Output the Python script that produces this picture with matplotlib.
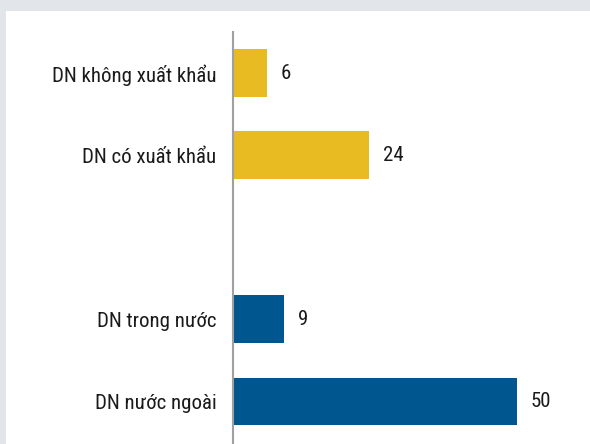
import matplotlib.pyplot as plt
from matplotlib import font_manager

nhom = ["DN không xuất khẩu", "DN có xuất khẩu", "DN trong nước", "DN nước ngoài"]
gia_tri = [6, 24, 9, 50]
vi_tri = [0, 1, 3, 4]
mau = ["#E8BB22", "#E8BB22", "#00578F", "#00578F"]

names = {f.name for f in font_manager.fontManager.ttflist}
chon = [n for n in ["Roboto Condensed", "Archivo Narrow", "Barlow Semi Condensed", "Roboto"] if n in names]
plt.rcParams["font.family"] = chon[:1] + ["DejaVu Sans"]

fig = plt.figure(figsize=(5.9, 4.44), dpi=100, facecolor="#E2E6EA")
# nen trang
fig.patches.append(plt.Rectangle((6 / 590, 0), 1, 1 - 11 / 444, transform=fig.transFigure,
                                 facecolor="white", edgecolor="none", zorder=-5))

ax = fig.add_axes([233 / 590, 0, 357 / 590, (444 - 32) / 444])
ax.set_facecolor("none")
ax.barh(vi_tri, gia_tri, height=0.58, color=mau)

for p, v in zip(vi_tri, gia_tri):
    ax.annotate(str(v), (v, p), xytext=(10, 0), textcoords="offset points",
                va="center", ha="left", fontsize=15, color="#1a1a1a")

ax.set_xlim(0, 357 / 5.68)
ax.set_ylim(4.52, -0.5)
ax.set_yticks(vi_tri)
ax.set_yticklabels(nhom, fontsize=15, color="#1a1a1a")
ax.tick_params(axis="y", length=0, pad=12)
ax.set_xticks([])
for s in ["top", "right", "bottom"]:
    ax.spines[s].set_visible(False)
ax.spines["left"].set_color("#A0A0A0")
ax.spines["left"].set_linewidth(1.5)

fig.savefig("out.png", dpi=100, facecolor=fig.get_facecolor())
